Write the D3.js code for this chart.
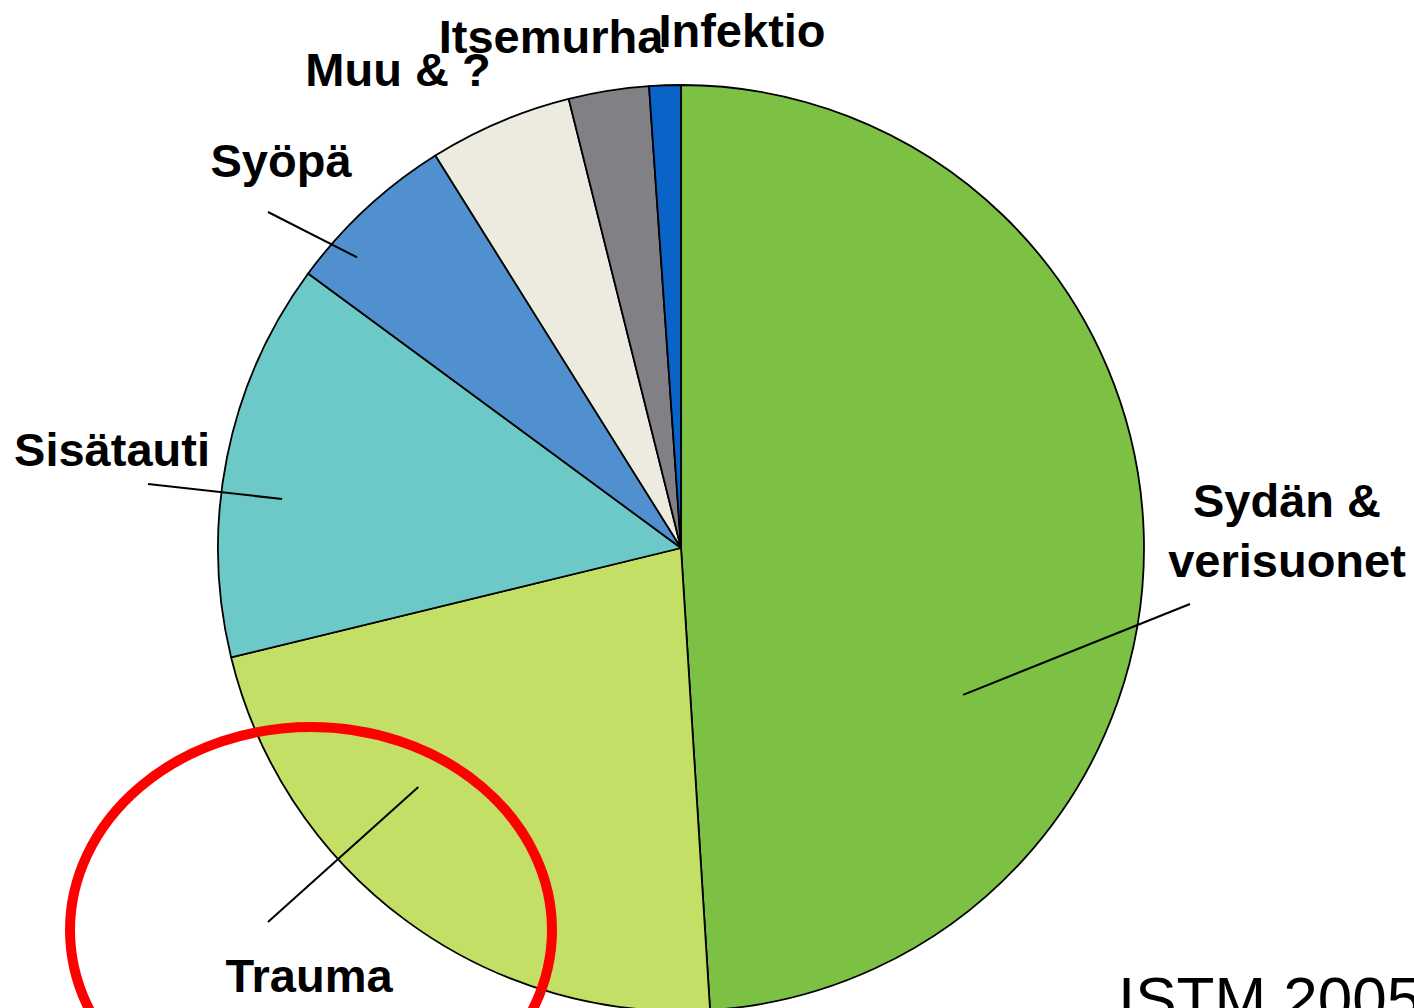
<!DOCTYPE html>
<html>
<head>
<meta charset="utf-8">
<script src="https://cdn.jsdelivr.net/npm/d3@7"></script>
<style>
  body { margin: 0; background: #fff; }
  svg { display: block; }
</style>
</head>
<body>
<div id="chart"></div>
<script>
var categories = ["Sydän & verisuonet", "Trauma", "Sisätauti", "Syöpä", "Muu & ?", "Itsemurha", "Infektio"];
var values = [49, 22.2, 13.9, 6, 5, 2.8, 1.1];
var colors = ["#7cc144", "#c3df66", "#6cc9c8", "#5090ce", "#edebe0", "#808085", "#0a64c8"];

var width = 1414;
var height = 1008;
var cx = 681, cy = 548, radius = 463;

var svg = d3.select('#chart')
            .append('svg')
            .attr('width', width)
            .attr('height', height)
            .style('font-family', 'Liberation Sans, Arial, sans-serif');

var pie = d3.pie().sort(null).value(function(d){ return d; });
var arc = d3.arc().innerRadius(0).outerRadius(radius);
var arcs = pie(values);

var g = svg.append('g').attr('transform', 'translate(' + cx + ',' + cy + ')');

g.selectAll('path')
  .data(arcs)
  .enter()
  .append('path')
  .attr('d', arc)
  .attr('fill', function(d,i){ return colors[i]; })
  .attr('stroke', '#000')
  .attr('stroke-width', 1.8)
  .attr('stroke-linejoin', 'round');

// leader lines: inner end given as angle (deg, clockwise from top) and radius fraction
var leaders = [
  {deg: 117.5, r: 0.687, end: [1190, 604]},
  {deg: 227.7, r: 0.767, end: [268, 922]},
  {deg: 277,   r: 0.868, end: [148, 484]},
  {deg: 311.9, r: 0.94,  end: [268, 212]}
];

leaders.forEach(function(l){
  var a = l.deg * Math.PI / 180;
  var x1 = cx + Math.sin(a) * radius * l.r;
  var y1 = cy - Math.cos(a) * radius * l.r;
  svg.append('line')
    .attr('x1', x1).attr('y1', y1)
    .attr('x2', l.end[0]).attr('y2', l.end[1])
    .attr('stroke', '#000')
    .attr('stroke-width', 2);
});

var labels = [
  {lines: ["Sydän &", "verisuonet"], x: 1287, y: 517},
  {lines: ["Trauma"], x: 309, y: 992},
  {lines: ["Sisätauti"], x: 112, y: 466},
  {lines: ["Syöpä"], x: 281, y: 177},
  {lines: ["Muu & ?"], x: 398, y: 86},
  {lines: ["Itsemurha"], x: 551, y: 53},
  {lines: ["Infektio"], x: 742, y: 47}
];

labels.forEach(function(l){
  var t = svg.append('text')
    .attr('x', l.x)
    .attr('y', l.y)
    .attr('text-anchor', 'middle')
    .attr('font-size', 47)
    .attr('font-weight', 'bold')
    .attr('fill', '#000');
  l.lines.forEach(function(s, k){
    t.append('tspan').attr('x', l.x).attr('dy', k === 0 ? 0 : 60).text(s);
  });
});

// red highlight around Trauma
svg.append('ellipse')
  .attr('cx', 311).attr('cy', 930)
  .attr('rx', 241).attr('ry', 203)
  .attr('fill', 'none')
  .attr('stroke', '#ff0000')
  .attr('stroke-width', 10);

svg.append('text')
  .attr('x', 1118)
  .attr('y', 1020)
  .attr('font-size', 62)
  .attr('fill', '#000')
  .text('ISTM 2005');
</script>
</body>
</html>
